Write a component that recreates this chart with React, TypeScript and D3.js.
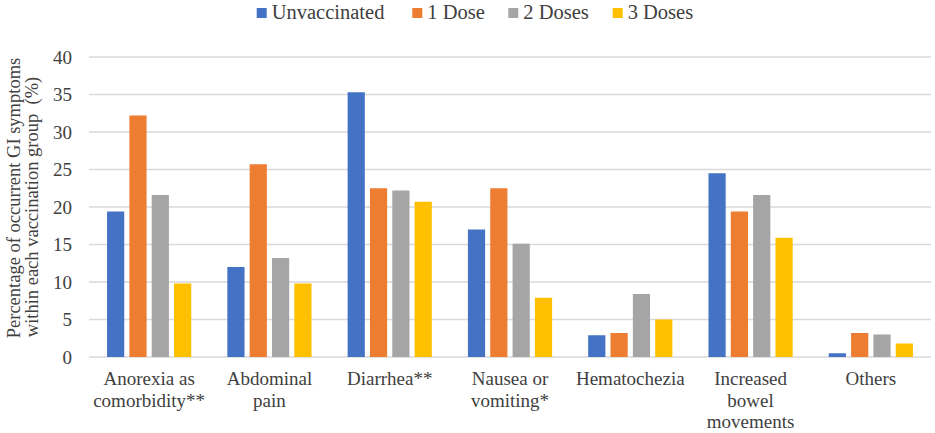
import React, { useEffect, useRef } from "react";
import * as d3 from "d3";

const categories = [
  "Anorexia as|comorbidity**",
  "Abdominal|pain",
  "Diarrhea**",
  "Nausea or|vomiting*",
  "Hematochezia",
  "Increased|bowel|movements",
  "Others",
];
const seriesNames = ["Unvaccinated", "1 Dose", "2 Doses", "3 Doses"];
const unvaccinated = [19.4, 12.0, 35.3, 17.0, 2.9, 24.5, 0.5];
const oneDose = [32.2, 25.7, 22.5, 22.5, 3.2, 19.4, 3.2];
const twoDoses = [21.6, 13.2, 22.2, 15.1, 8.4, 21.6, 3.0];
const threeDoses = [9.8, 9.8, 20.7, 7.9, 5.0, 15.9, 1.8];
const yTicks = [0, 5, 10, 15, 20, 25, 30, 35, 40];
const colors = ["#4472C4", "#ED7D31", "#A5A5A5", "#FFC000"];

const W = 935;
const H = 433;
const FONT = "Liberation Serif, Times New Roman, Times, DejaVu Serif, serif";

export default function App() {
  const ref = useRef<SVGSVGElement | null>(null);

  useEffect(() => {
    const svg = d3.select(ref.current);
    svg.selectAll("*").remove();
    const values = [unvaccinated, oneDose, twoDoses, threeDoses];

    const left = 89, right = 931, top = 57, bottom = 357;
    const y = d3.scaleLinear().domain([0, 40]).range([bottom, top]);
    const x0 = d3.scaleBand<string>().domain(categories).range([left, right]).paddingInner(0.3).paddingOuter(0.15);
    const x1 = d3.scaleBand<string>().domain(seriesNames).range([0, x0.bandwidth()]).paddingInner(0.23);

    svg.append("g").selectAll("line").data(yTicks).join("line")
      .attr("x1", left).attr("x2", right)
      .attr("y1", (d) => y(d)).attr("y2", (d) => y(d))
      .attr("stroke", "#D9D9D9").attr("stroke-width", 1.5);

    svg.append("g").selectAll("text").data(yTicks).join("text")
      .attr("x", 72).attr("y", (d) => y(d) + 6.5)
      .attr("text-anchor", "end")
      .style("font-family", FONT).style("font-size", "19px").attr("fill", "#404040")
      .text((d) => String(d));

    seriesNames.forEach((s, si) => {
      svg.append("g").selectAll("rect").data(values[si]).join("rect")
        .attr("x", (_d, i) => (x0(categories[i]) as number) + (x1(s) as number))
        .attr("y", (d) => y(d))
        .attr("width", x1.bandwidth())
        .attr("height", (d) => bottom - y(d))
        .attr("fill", colors[si]);
    });

    const cg = svg.append("g");
    categories.forEach((c) => {
      const cx = (x0(c) as number) + x0.bandwidth() / 2;
      const t = cg.append("text")
        .attr("text-anchor", "middle")
        .style("font-family", FONT).style("font-size", "19px").attr("fill", "#404040");
      c.split("|").forEach((line, li) => {
        t.append("tspan").attr("x", cx).attr("y", 385 + li * 21.7).text(line);
      });
    });

    const titleLines = ["Percentage of occurrent GI symptoms", "within each vaccination group  (%)"];
    const titleX = [20, 38];
    const titleY = [198, 207];
    titleLines.forEach((line, i) => {
      svg.append("text")
        .attr("transform", `translate(${titleX[i]},${titleY[i]}) rotate(-90)`)
        .attr("text-anchor", "middle")
        .style("font-family", FONT).style("font-size", "18.5px").attr("fill", "#404040")
        .style("white-space", "pre")
        .text(line);
    });

    const legendX = [256.7, 412.3, 508.3, 612.7];
    const lg = svg.append("g");
    seriesNames.forEach((s, i) => {
      lg.append("rect").attr("x", legendX[i]).attr("y", 8).attr("width", 10).attr("height", 10).attr("fill", colors[i]);
      lg.append("text").attr("x", legendX[i] + 15).attr("y", 18.5)
        .style("font-family", FONT).style("font-size", "20.5px").attr("fill", "#404040")
        .text(s);
    });
  }, []);

  return (
    <svg
      ref={ref}
      width={W}
      height={H}
      style={{ position: "absolute", left: 0, top: 0, background: "#fff", display: "block" }}
    />
  );
}
